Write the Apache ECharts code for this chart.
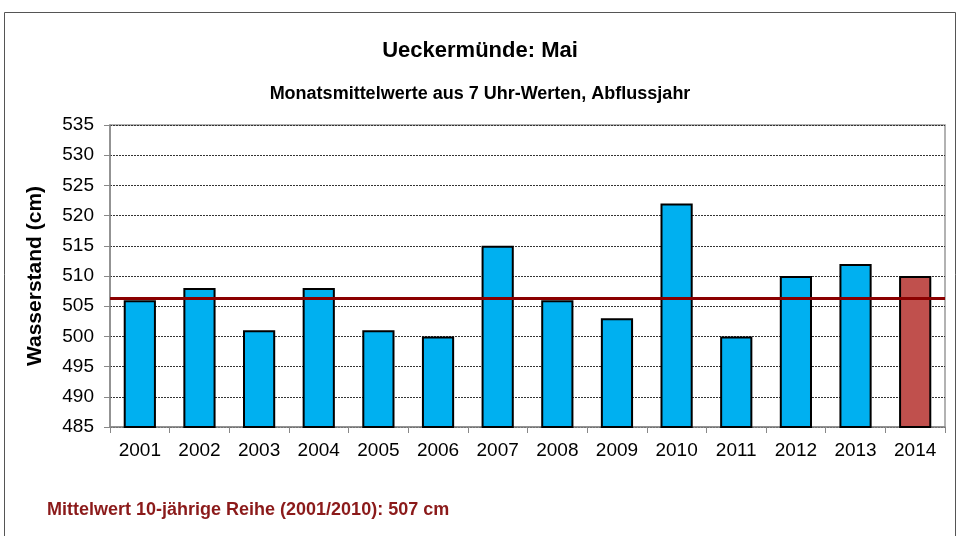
<!DOCTYPE html>
<html>
<head>
<meta charset="utf-8">
<script src="https://cdn.jsdelivr.net/npm/echarts@6/dist/echarts.min.js"></script>
<style>
  html, body { margin: 0; padding: 0; background: #fff; }
  #chart { width: 960px; height: 536px; }
</style>
</head>
<body>
<div id="chart"></div>
<script>
// Jahre (Kategorien)
const years = ['2001', '2002', '2003', '2004', '2005', '2006', '2007',
  '2008', '2009', '2010', '2011', '2012', '2013', '2014']
// Monatsmittel Mai (cm)
const values = [506, 508, 501, 508, 501, 500, 515, 506, 503, 522, 500, 510, 512, 510]
// Mittelwert der 10-jährigen Reihe
const meanValue = 506.3
const currentYear = '2014'

const chart = echarts.init(document.getElementById('chart'))

const font = 'Liberation Sans, Arial, sans-serif'

const option = {
  backgroundColor: '#fff',
  animation: false,
  title: [
    {
      text: 'Ueckermünde: Mai',
      left: 'center',
      top: 35,
      textStyle: { fontFamily: font, fontSize: 22, fontWeight: 'bold', color: '#000' }
    },
    {
      text: 'Monatsmittelwerte aus 7 Uhr-Werten, Abflussjahr',
      left: 'center',
      top: 80,
      textStyle: { fontFamily: font, fontSize: 18, fontWeight: 'bold', color: '#000' }
    },
    {
      text: 'Mittelwert 10-jährige Reihe (2001/2010): 507 cm',
      left: 42,
      top: 496,
      textStyle: { fontFamily: font, fontSize: 18, fontWeight: 'bold', color: '#8B1A1A' }
    }
  ],
  graphic: [
    {
      type: 'rect',
      shape: { x: 4.5, y: 12.5, width: 951, height: 540 },
      style: { fill: 'none', stroke: '#555', lineWidth: 1 },
      silent: true
    }
  ],
  grid: {
    left: 110,
    right: 15,
    top: 125,
    height: 302,
    show: true,
    borderColor: '#999',
    borderWidth: 1.5
  },
  xAxis: {
    type: 'category',
    data: years,
    axisLine: { lineStyle: { color: '#888', width: 1.5 } },
    axisTick: { show: true, length: 6, lineStyle: { color: '#888' } },
    axisLabel: { fontFamily: font, fontSize: 19, color: '#000', margin: 14 }
  },
  yAxis: {
    type: 'value',
    min: 485,
    max: 535,
    interval: 5,
    name: 'Wasserstand (cm)',
    nameLocation: 'middle',
    nameGap: 64,
    nameTextStyle: { fontFamily: font, fontSize: 21, fontWeight: 'bold', color: '#000' },
    axisLine: { show: true, lineStyle: { color: '#888', width: 1.5 } },
    axisTick: { show: true, length: 6, lineStyle: { color: '#888' } },
    axisLabel: { fontFamily: font, fontSize: 19, color: '#000', margin: 16 },
    splitLine: { lineStyle: { color: '#333', type: [2, 1], width: 1 } }
  },
  series: [
    {
      type: 'bar',
      barCategoryGap: '46%',
      data: values.map((v, i) => ({
        value: v,
        itemStyle: { color: years[i] === currentYear ? '#C0504D' : '#00B0F0' }
      })),
      itemStyle: { borderColor: '#000', borderWidth: 2 },
      markLine: {
        silent: true,
        symbol: 'none',
        label: { show: false },
        lineStyle: { color: '#8B0000', width: 3, type: 'solid' },
        data: [{ yAxis: meanValue }]
      }
    }
  ]
}

chart.setOption(option)
</script>
</body>
</html>
